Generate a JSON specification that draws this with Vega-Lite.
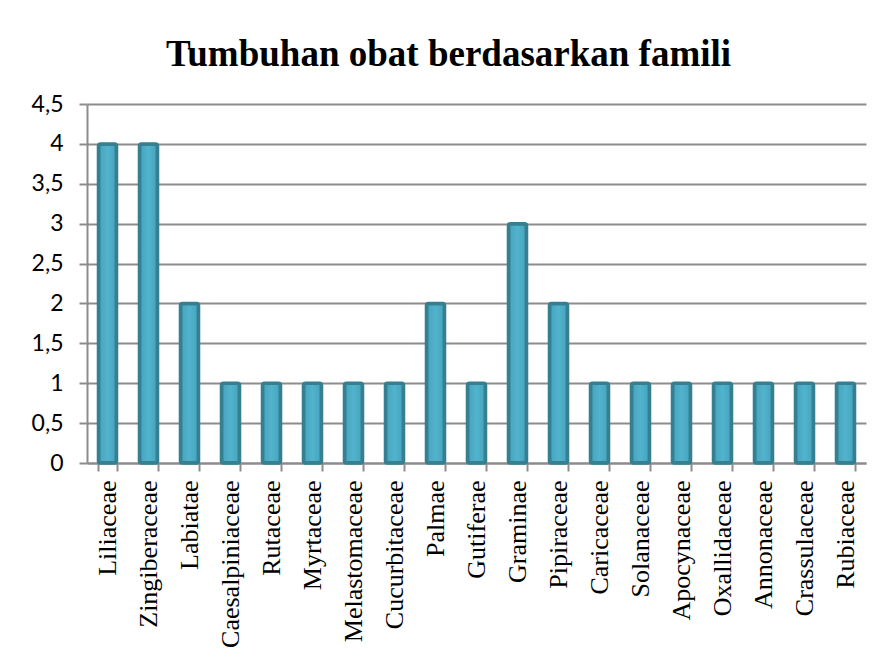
{
  "$schema": "https://vega.github.io/schema/vega-lite/v6.json",
  "autosize": "none",
  "width": 779,
  "height": 359,
  "padding": {"left": 87, "top": 104, "right": 20, "bottom": 198},
  "background": "white",
  "title": {
    "text": "Tumbuhan obat berdasarkan famili",
    "font": "Liberation Serif",
    "fontSize": 37,
    "fontWeight": "bold",
    "color": "black",
    "anchor": "middle",
    "frame": "bounds",
    "offset": 19
  },
  "data": {
    "values": [
      {"famili": "Liliaceae", "jumlah": 4},
      {"famili": "Zingiberaceae", "jumlah": 4},
      {"famili": "Labiatae", "jumlah": 2},
      {"famili": "Caesalpiniaceae", "jumlah": 1},
      {"famili": "Rutaceae", "jumlah": 1},
      {"famili": "Myrtaceae", "jumlah": 1},
      {"famili": "Melastomaceae", "jumlah": 1},
      {"famili": "Cucurbitaceae", "jumlah": 1},
      {"famili": "Palmae", "jumlah": 2},
      {"famili": "Gutiferae", "jumlah": 1},
      {"famili": "Graminae", "jumlah": 3},
      {"famili": "Pipiraceae", "jumlah": 2},
      {"famili": "Caricaceae", "jumlah": 1},
      {"famili": "Solanaceae", "jumlah": 1},
      {"famili": "Apocynaceae", "jumlah": 1},
      {"famili": "Oxallidaceae", "jumlah": 1},
      {"famili": "Annonaceae", "jumlah": 1},
      {"famili": "Crassulaceae", "jumlah": 1},
      {"famili": "Rubiaceae", "jumlah": 1}
    ]
  },
  "mark": {
    "type": "bar",
    "color": {
      "gradient": "linear",
      "x1": 0, "x2": 1, "y1": 0, "y2": 0,
      "stops": [
        {"offset": 0, "color": "#45a3bc"},
        {"offset": 0.5, "color": "#52b3cd"},
        {"offset": 1, "color": "#45a3bc"}
      ]
    },
    "stroke": "#367f91",
    "strokeWidth": 3.5,
    "cornerRadius": 2
  },
  "encoding": {
    "x": {
      "field": "famili",
      "type": "nominal",
      "sort": null,
      "scale": {"paddingInner": 0.56, "paddingOuter": 0.28},
      "axis": {
        "title": null,
        "labelAngle": -90,
        "labelFont": "Liberation Serif",
        "labelFontSize": 26,
        "labelColor": "black",
        "labelPadding": 9,
        "tickBand": "extent",
        "tickSize": 8,
        "tickColor": "#8c8c8c",
        "tickWidth": 2,
        "domainColor": "#8c8c8c",
        "domainWidth": 2,
        "grid": false
      }
    },
    "y": {
      "field": "jumlah",
      "type": "quantitative",
      "scale": {"domain": [0, 4.5], "nice": false},
      "axis": {
        "title": null,
        "values": [0, 0.5, 1, 1.5, 2, 2.5, 3, 3.5, 4, 4.5],
        "labelExpr": "replace(format(datum.value, '~g'), '.', ',')",
        "labelFont": "Lato",
        "labelFontSize": 23,
        "labelColor": "black",
        "labelPadding": 16,
        "tickSize": 8,
        "tickColor": "#8c8c8c",
        "tickWidth": 2,
        "domainColor": "#8c8c8c",
        "domainWidth": 2,
        "grid": true,
        "gridColor": "#8c8c8c",
        "gridWidth": 2
      }
    }
  },
  "config": {
    "view": {"stroke": null}
  }
}
